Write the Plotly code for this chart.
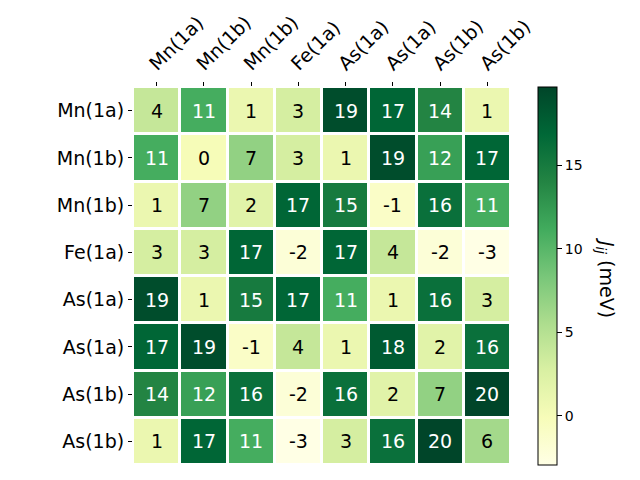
import plotly.graph_objects as go

col_labels = ["Mn(1a)", "Mn(1b)", "Mn(1b)", "Fe(1a)", "As(1a)", "As(1a)", "As(1b)", "As(1b)"]
row_labels = ["Mn(1a)", "Mn(1b)", "Mn(1b)", "Fe(1a)", "As(1a)", "As(1a)", "As(1b)", "As(1b)"]

row_mn1a = [4, 11, 1, 3, 19, 17, 14, 1]
row_mn1b_a = [11, 0, 7, 3, 1, 19, 12, 17]
row_mn1b_b = [1, 7, 2, 17, 15, -1, 16, 11]
row_fe1a = [3, 3, 17, -2, 17, 4, -2, -3]
row_as1a_a = [19, 1, 15, 17, 11, 1, 16, 3]
row_as1a_b = [17, 19, -1, 4, 1, 18, 2, 16]
row_as1b_a = [14, 12, 16, -2, 16, 2, 7, 20]
row_as1b_b = [1, 17, 11, -3, 3, 16, 20, 6]

values = [row_mn1a, row_mn1b_a, row_mn1b_b, row_fe1a,
          row_as1a_a, row_as1a_b, row_as1b_a, row_as1b_b]

zmin, zmax = -2.93, 19.67
ylgn = ["#ffffe5", "#f7fcb9", "#d9f0a3", "#addd8e", "#78c679",
        "#41ab5d", "#238443", "#006837", "#004529"]
colorscale = [[i / (len(ylgn) - 1), c] for i, c in enumerate(ylgn)]

n_cols = len(col_labels)
n_rows = len(row_labels)
xs = list(range(n_cols))
ys = list(range(n_rows))

# page body has an 8px offset; positions below are figure coordinates
off = 8
plot_l, plot_r, plot_t, plot_b = 133 - off, 511 - off, 87 - off, 465 - off
pw = plot_r - plot_l
ph = plot_b - plot_t

fig = go.Figure()
fig.add_trace(go.Heatmap(
    z=values, x=xs, y=ys,
    zmin=zmin, zmax=zmax, colorscale=colorscale,
    xgap=3, ygap=3,
    hoverinfo="skip",
    colorbar=dict(
        thickness=19, len=1.0, lenmode="fraction",
        x=(538 - off - plot_l) / pw, xanchor="left", y=0.5, yanchor="middle",
        xpad=0, ypad=0,
        outlinewidth=1, outlinecolor="black",
        tickvals=[0, 5, 10, 15], ticks="outside", ticklen=5,
        tickcolor="black",
        tickfont=dict(family="DejaVu Sans", size=14, color="black"),
    ),
))

threshold = (zmin + zmax) / 2
for r, row in enumerate(values):
    for c, v in enumerate(row):
        fig.add_annotation(
            x=c, y=r, text=str(v), showarrow=False,
            font=dict(family="DejaVu Sans", size=19,
                      color="white" if v > threshold else "black"),
        )

fig.add_annotation(
    x=(606 - off - plot_l) / pw, y=(plot_b - (277 - off)) / ph,
    xref="paper", yref="paper", xanchor="center", yanchor="middle",
    text="<i>J</i><sub><i>ij</i></sub> (meV)", showarrow=False,
    textangle=90,
    font=dict(family="DejaVu Sans", size=19, color="black"),
)

fig.update_layout(
    width=640, height=480,
    margin=dict(l=plot_l, r=640 - plot_r, t=plot_t, b=480 - plot_b, pad=0),
    paper_bgcolor="white", plot_bgcolor="white",
    showlegend=False,
    xaxis=dict(
        side="top", tickmode="array", tickvals=xs, ticktext=col_labels,
        tickangle=-45, ticks="outside", ticklen=4, tickcolor="black",
        ticklabelshift=-6,
        tickfont=dict(family="DejaVu Sans", size=19, color="black"),
        range=[-0.5, n_cols - 0.5], showgrid=False, zeroline=False,
        showline=False, automargin=False,
    ),
    yaxis=dict(
        tickmode="array", tickvals=ys, ticktext=row_labels,
        range=[n_rows - 0.5, -0.5], ticks="outside", ticklen=4, tickcolor="black",
        tickfont=dict(family="DejaVu Sans", size=19, color="black"),
        showgrid=False, zeroline=False, showline=False, automargin=False,
    ),
)

fig.write_html("out.html")
